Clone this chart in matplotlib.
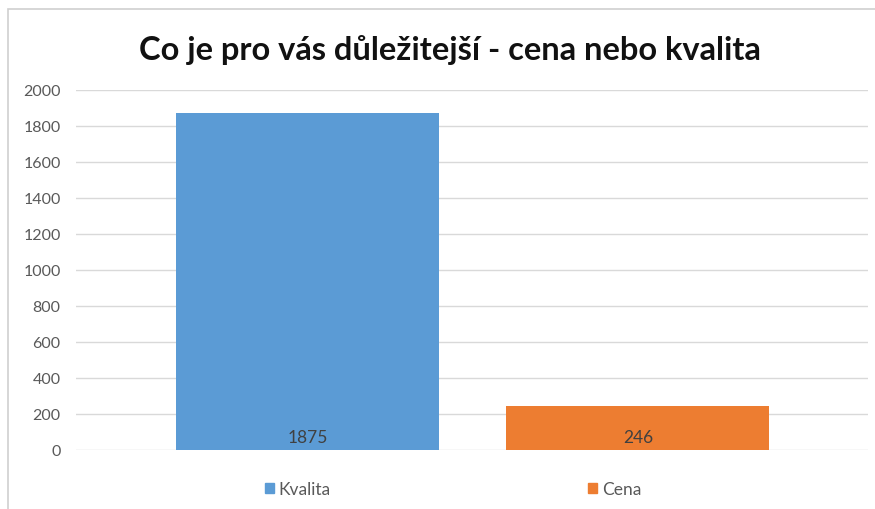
import matplotlib.pyplot as plt
from matplotlib.patches import Rectangle, Patch

# odpovedi
kategorie = ['Kvalita', 'Cena']
pocty = [1875, 246]
barvy = ['#5B9BD5', '#ED7D31']
osa_y = list(range(0, 2001, 200))

plt.rcParams['font.family'] = ['Lato', 'DejaVu Sans']

fig = plt.figure(figsize=(8.75, 5.1), dpi=100)
ax = fig.add_axes([76/875, 1-451/510, 792/875, 360/510])

pozice = list(range(len(kategorie)))
ax.bar(pozice, pocty, width=0.796, color=barvy, zorder=3)
for x, v in zip(pozice, pocty):
    ax.text(x, 70, str(v), ha='center', va='center', fontsize=12.5, color='#404040', zorder=4)

ax.set_xlim(-0.70, 1.696)
ax.set_ylim(0, 2000)
ax.set_yticks(osa_y)
ax.set_xticks([])
ax.tick_params(axis='y', length=0, labelsize=11.5, labelcolor='#595959', pad=11)
ax.grid(axis='y', color='#d9d9d9', linewidth=1, zorder=0)
for s in ax.spines.values():
    s.set_visible(False)

fig.suptitle('Co je pro vás důležitejší - cena nebo kvalita', x=450/875, y=1-50/510,
             va='center', fontsize=23.5, fontweight='bold', color='#111111')

handles = [Patch(color=c) for c in barvy]
fig.legend(handles, kategorie, loc='center', bbox_to_anchor=(453/875, 1-490/510), ncol=2,
           frameon=False, fontsize=12.5, handlelength=0.5, handleheight=0.5,
           handletextpad=0.3, columnspacing=14.8, labelcolor='#595959')

# ramecek grafu
fig.patches.append(Rectangle((8/875, -0.1), 1.1, 1-10/510+0.1, transform=fig.transFigure,
                             fill=False, edgecolor='#cfcfcf', linewidth=1.2))

fig.savefig('out.png', dpi=100)
